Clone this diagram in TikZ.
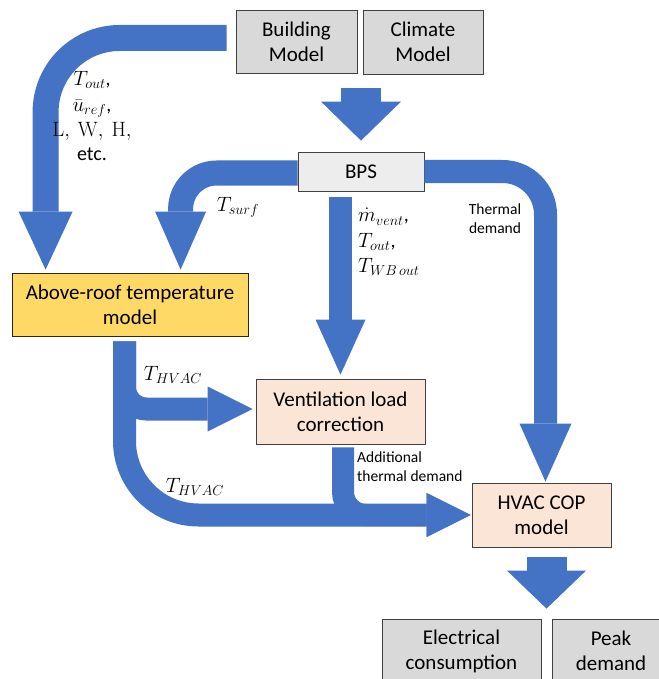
\documentclass[tikz,border=0pt]{standalone}
\usepackage[no-math]{fontspec}
\setmainfont{Carlito}
\usetikzlibrary{arrows.meta,calc}
\definecolor{flow}{HTML}{4472C4}
\definecolor{greybox}{HTML}{D9D9D9}
\definecolor{lightbox}{HTML}{EDEDED}
\definecolor{goldbox}{HTML}{FFD966}
\definecolor{peachbox}{HTML}{FBE5D6}
\begin{document}
\begin{tikzpicture}[x=1pt,y=-1pt,
  box/.style={draw=black!75, line width=0.8pt, align=center, inner sep=0pt,
    font=\fontsize{21}{25}\selectfont},
  band/.style={draw=flow, line width=#1},
  head/.style n args={2}{-{Triangle[length=#1pt,width=#2pt,line width=0pt]}},
  lbl/.style={inner sep=0pt, font=\fontsize{20}{24}\selectfont},
  note/.style={inner sep=0pt, align=left, font=\fontsize{15.5}{19}\selectfont}]

\fill[white] (0,0) rectangle (658,679);
\useasboundingbox (0,0) rectangle (658,679);

% model blocks
\node[box, fill=greybox, minimum width=121pt, minimum height=63pt] (bm) at (296.5,41.5) {Building\\Model};
\node[box, fill=greybox, minimum width=120pt, minimum height=64pt] (cm) at (423,42) {Climate\\Model};
\node[box, fill=lightbox, minimum width=126pt, minimum height=39pt] (bps) at (361,171.5) {BPS};
\node[box, fill=goldbox, draw=black!70!goldbox!60!black, minimum width=236pt, minimum height=63pt] (roof) at (130,304.5) {Above-roof temperature\\model};
\node[box, fill=peachbox, minimum width=169pt, minimum height=65pt] (vent) at (340.5,411.5) {Ventilation load\\correction};
\node[box, fill=peachbox, minimum width=139pt, minimum height=64pt] (hvac) at (541.5,515) {HVAC COP\\model};
\node[box, fill=greybox, minimum width=159pt, minimum height=64pt] (elec) at (461.5,651) {Electrical\\consumption};
\node[box, fill=greybox, minimum width=118pt, minimum height=64pt] (peak) at (611,651) {Peak\\demand};
\coordinate (outmid) at ($(elec.north east)!0.5!(peak.north west)$);

% flows
\draw[band=26pt, rounded corners=74pt, head={58}{54}]
  ($(bm.west)+(-9,-3.5)$) -| ($(roof.north west)+(34,-3)$);
\draw[band=25pt, rounded corners=36pt, head={58}{51}]
  ($(bps.west)+(0,1.5)$) -| ($(roof.north west)+(169,-3)$);
\draw[band=40pt, head={39}{80}]
  ($(bps.north |- bm.south)+(0,15)$) -- ($(bps.north)+(0,-11)$);
\draw[band=23pt, head={55}{50}]
  ($(vent.north |- bps.south)+(0,6)$) -- ($(vent.north)+(0,-4)$);
\draw[band=23pt, rounded corners=43pt, head={58}{52}]
  (bps.east) -| ($(hvac.north)+(4,-1)$);
\draw[band=23pt, rounded corners=22pt, head={45}{45}]
  ($(roof.south)+(-5.5,5)$) |- ($(vent.west)+(-3,-2.5)$);
\draw[band=23pt, rounded corners=74pt, head={44}{44}]
  ($(roof.south)+(-5.5,5)$) |- ($(hvac.west)+(-1,0)$);
\draw[band=22pt, rounded corners=23pt, head={44}{44}]
  ($(vent.south)+(2.5,3)$) |- ($(hvac.west)+(-1,0)$);
\draw[band=40pt, head={38}{79}]
  ($(outmid |- hvac.south)+(0,10)$) -- ($(outmid)+(0,-10)$);

% flow labels
\node[lbl, align=center] (inputs) at (92,116) {$T_{out}$,\\[1.5pt]$\bar{u}_{ref}$,\\[1pt]$\mathrm{L,\ W,\ H,}$\\etc.};
\node[lbl] (tsurf) at (238,207) {$T_{surf}$};
\node[lbl, anchor=west, align=left] (bpsout) at (358,242) {$\dot{m}_{vent}$,\\[1.5pt]$T_{out}$,\\[1pt]$T_{WB\,out}$};
\node[note, align=center] (thermal) at (495,219) {Thermal\\demand};
\node[lbl] (thvac1) at (173,375) {$T_{HVAC}$};
\node[lbl] (thvac2) at (195,487) {$T_{HVAC}$};
\node[note, anchor=west] (extra) at (357,467) {Additional\\thermal demand};
\end{tikzpicture}
\end{document}
